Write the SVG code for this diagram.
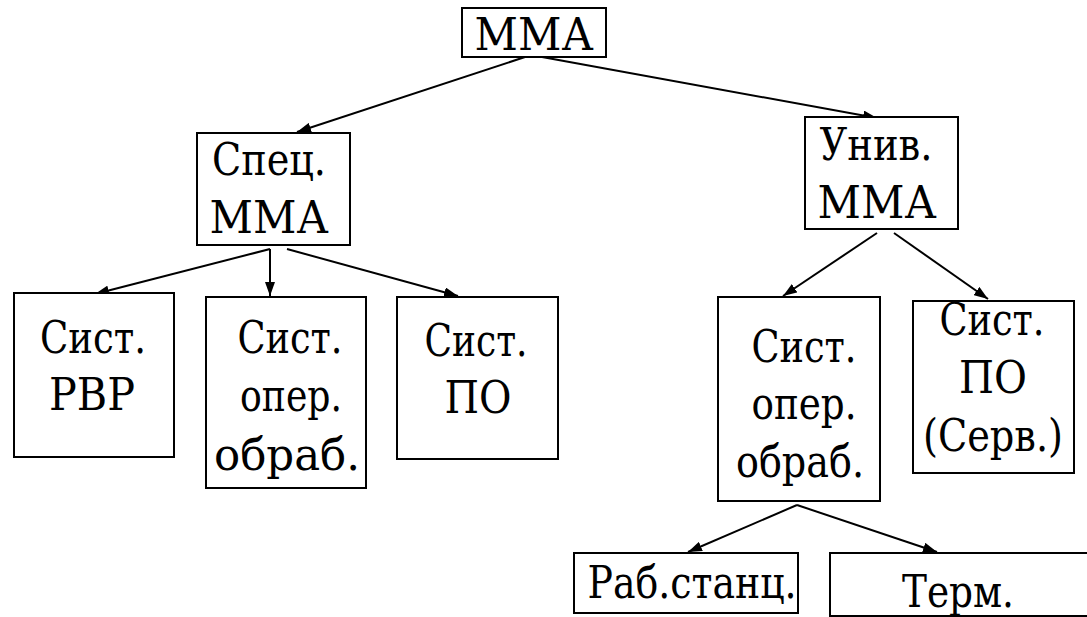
<svg xmlns="http://www.w3.org/2000/svg" width="1087" height="617" viewBox="0 0 1087 617">
  <style>
    .box { fill: #ffffff; stroke: #000000; stroke-width: 2; }
    .lbl { font-family: "DejaVu Serif Condensed", "DejaVu Serif", serif; font-stretch: condensed; font-size: 44px; fill: #000000; text-anchor: middle; }
    .edge { stroke: #000000; stroke-width: 2; fill: none; marker-end: url(#arrow); }
  </style>
  <defs>
    <marker id="arrow" viewBox="0 0 14 10" refX="14" refY="5" markerWidth="14" markerHeight="10" markerUnits="userSpaceOnUse" orient="auto">
      <path d="M0,0 L14,5 L0,10 Z" fill="#000000"/>
    </marker>
  </defs>
  <rect width="1087" height="617" fill="#ffffff"/>

  <!-- connectors -->
  <g id="connectors">
    <line class="edge" x1="525" y1="57" x2="297" y2="132"/>
    <line class="edge" x1="542" y1="57" x2="877" y2="118"/>
    <line class="edge" x1="270" y1="249" x2="95" y2="294"/>
    <line class="edge" x1="270" y1="249" x2="270" y2="296"/>
    <line class="edge" x1="287" y1="249" x2="458" y2="296"/>
    <line class="edge" x1="877" y1="233" x2="783" y2="296"/>
    <line class="edge" x1="894" y1="233" x2="988" y2="299"/>
    <line class="edge" x1="797" y1="505" x2="688" y2="552"/>
    <line class="edge" x1="797" y1="505" x2="937" y2="552"/>
  </g>

  <!-- root -->
  <g id="n-mma">
    <rect class="box" x="462" y="8" width="144" height="49"/>
    <text class="lbl" x="534" y="50" textLength="119" lengthAdjust="spacingAndGlyphs">ММА</text>
  </g>

  <!-- specialised branch -->
  <g id="n-spec">
    <rect class="box" x="197" y="133" width="153" height="112"/>
    <text class="lbl" x="269" y="175" textLength="114" lengthAdjust="spacingAndGlyphs">Спец.</text>
    <text class="lbl" x="269" y="233" textLength="119" lengthAdjust="spacingAndGlyphs">ММА</text>
  </g>
  <g id="n-rvr">
    <rect class="box" x="14" y="293" width="160" height="164"/>
    <text class="lbl" x="93" y="353" textLength="106" lengthAdjust="spacingAndGlyphs">Сист.</text>
    <text class="lbl" x="92" y="410" textLength="86" lengthAdjust="spacingAndGlyphs">РВР</text>
  </g>
  <g id="n-oper1">
    <rect class="box" x="206" y="297" width="160" height="191"/>
    <text class="lbl" x="290" y="353" textLength="105" lengthAdjust="spacingAndGlyphs">Сист.</text>
    <text class="lbl" x="291" y="411" textLength="102" lengthAdjust="spacingAndGlyphs">опер.</text>
    <text class="lbl" x="287" y="470" textLength="146" lengthAdjust="spacingAndGlyphs">обраб.</text>
  </g>
  <g id="n-po1">
    <rect class="box" x="397" y="297" width="161" height="162"/>
    <text class="lbl" x="476" y="356" textLength="103" lengthAdjust="spacingAndGlyphs">Сист.</text>
    <text class="lbl" x="478" y="413" textLength="67" lengthAdjust="spacingAndGlyphs">ПО</text>
  </g>

  <!-- universal branch -->
  <g id="n-univ">
    <rect class="box" x="805" y="117" width="153" height="112"/>
    <text class="lbl" x="876" y="160" textLength="113" lengthAdjust="spacingAndGlyphs">Унив.</text>
    <text class="lbl" x="877" y="218" textLength="119" lengthAdjust="spacingAndGlyphs">ММА</text>
  </g>
  <g id="n-oper2">
    <rect class="box" x="718" y="297" width="162" height="204"/>
    <text class="lbl" x="804" y="362" textLength="105" lengthAdjust="spacingAndGlyphs">Сист.</text>
    <text class="lbl" x="804" y="419" textLength="105" lengthAdjust="spacingAndGlyphs">опер.</text>
    <text class="lbl" x="800" y="477" textLength="128" lengthAdjust="spacingAndGlyphs">обраб.</text>
  </g>
  <g id="n-po2">
    <rect class="box" x="913" y="301" width="161" height="172"/>
    <text class="lbl" x="992" y="335" textLength="105" lengthAdjust="spacingAndGlyphs">Сист.</text>
    <text class="lbl" x="993" y="393" textLength="68" lengthAdjust="spacingAndGlyphs">ПО</text>
    <text class="lbl" x="993" y="451" textLength="140" lengthAdjust="spacingAndGlyphs">(Серв.)</text>
  </g>

  <!-- leaves -->
  <g id="n-ws">
    <rect class="box" x="574" y="553" width="224" height="60"/>
    <text class="lbl" x="692" y="598" textLength="209" lengthAdjust="spacingAndGlyphs">Раб.станц.</text>
  </g>
  <g id="n-term">
    <rect class="box" x="830" y="553" width="262" height="63"/>
    <text class="lbl" x="958" y="607" textLength="112" lengthAdjust="spacingAndGlyphs">Терм.</text>
  </g>
</svg>
